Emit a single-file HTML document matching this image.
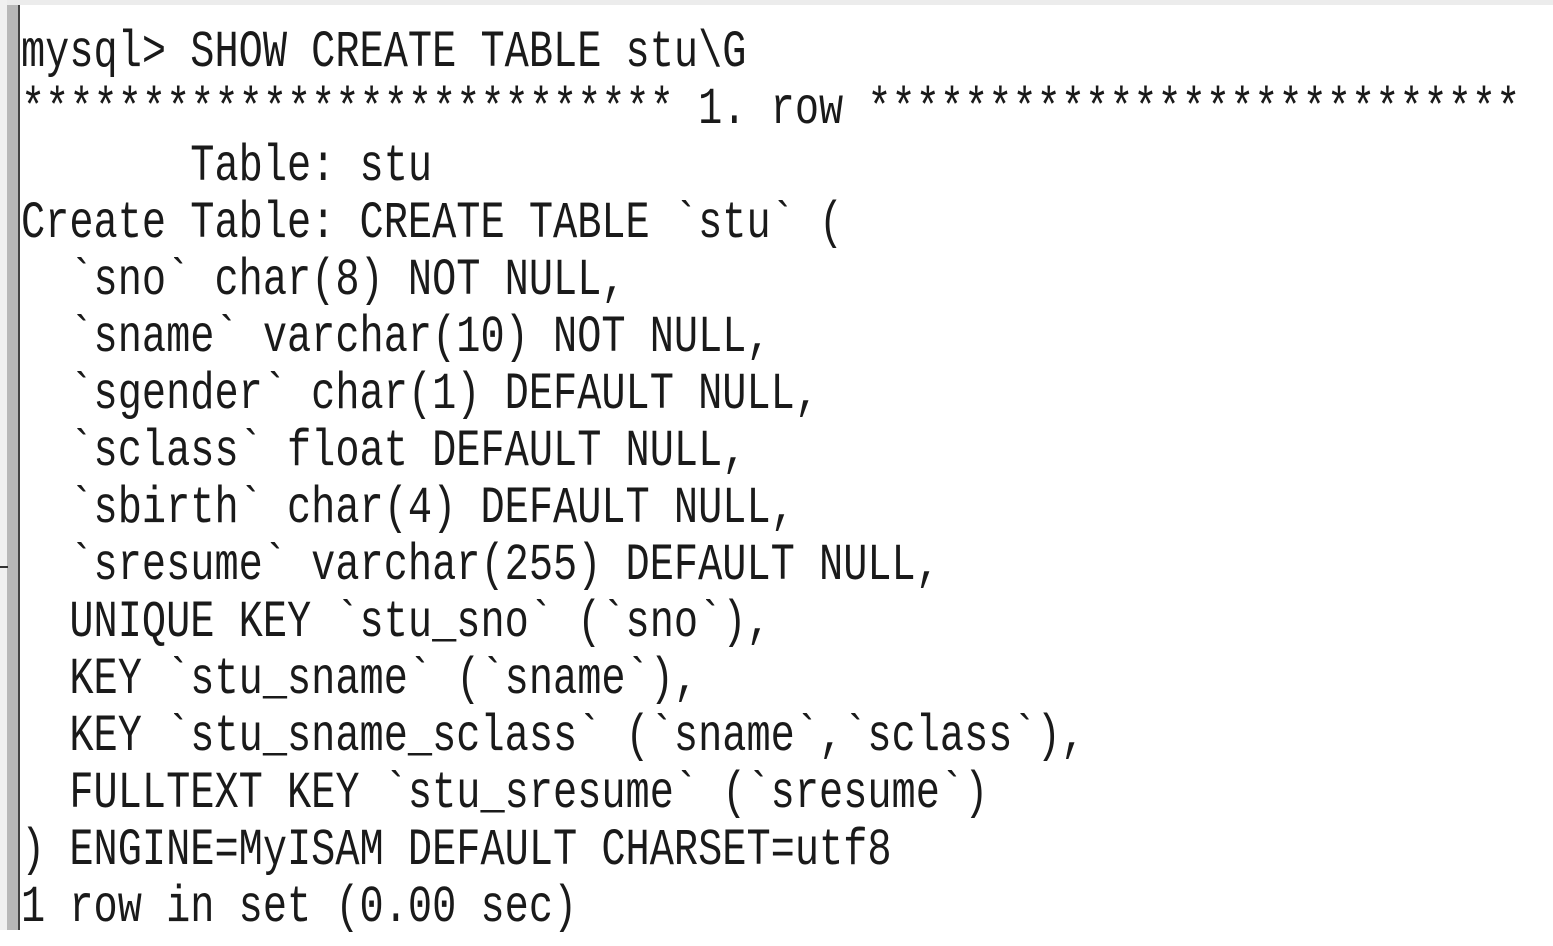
<!DOCTYPE html>
<html><head><meta charset="utf-8"><style>
html,body{margin:0;padding:0}
body{width:1553px;height:930px;background:#fff;position:relative;overflow:hidden}
.top{position:absolute;left:0;top:0;width:1553px;height:5px;background:#ececec}
.l1{position:absolute;left:0;top:0;width:7px;height:930px;background:#f0f0f0}
.l2{position:absolute;left:7px;top:5px;width:11px;height:925px;background:#b8b8b8}
.l3{position:absolute;left:18px;top:5px;width:2px;height:925px;background:#444}
.tick{position:absolute;left:0;top:566px;width:8px;height:2px;background:#333}
.t{position:absolute;left:21px;font-family:"Liberation Mono",monospace;font-size:40.3px;line-height:57px;height:57px;white-space:pre;color:#1a1a1a;transform:scaleY(1.3);transform-origin:0 50%;}
</style></head><body>
<div class="top"></div><div class="l1"></div><div class="l2"></div><div class="l3"></div><div class="tick"></div>
<div class="t" style="top:25px">mysql&gt; SHOW CREATE TABLE stu\G</div>
<div class="t" style="top:82px">*************************** 1. row ***************************</div>
<div class="t" style="top:139px">       Table: stu</div>
<div class="t" style="top:196px">Create Table: CREATE TABLE `stu` (</div>
<div class="t" style="top:253px">  `sno` char(8) NOT NULL,</div>
<div class="t" style="top:310px">  `sname` varchar(10) NOT NULL,</div>
<div class="t" style="top:367px">  `sgender` char(1) DEFAULT NULL,</div>
<div class="t" style="top:424px">  `sclass` float DEFAULT NULL,</div>
<div class="t" style="top:481px">  `sbirth` char(4) DEFAULT NULL,</div>
<div class="t" style="top:538px">  `sresume` varchar(255) DEFAULT NULL,</div>
<div class="t" style="top:595px">  UNIQUE KEY `stu_sno` (`sno`),</div>
<div class="t" style="top:652px">  KEY `stu_sname` (`sname`),</div>
<div class="t" style="top:709px">  KEY `stu_sname_sclass` (`sname`,`sclass`),</div>
<div class="t" style="top:766px">  FULLTEXT KEY `stu_sresume` (`sresume`)</div>
<div class="t" style="top:823px">) ENGINE=MyISAM DEFAULT CHARSET=utf8</div>
<div class="t" style="top:880px">1 row in set (0.00 sec)</div>
</body></html>
